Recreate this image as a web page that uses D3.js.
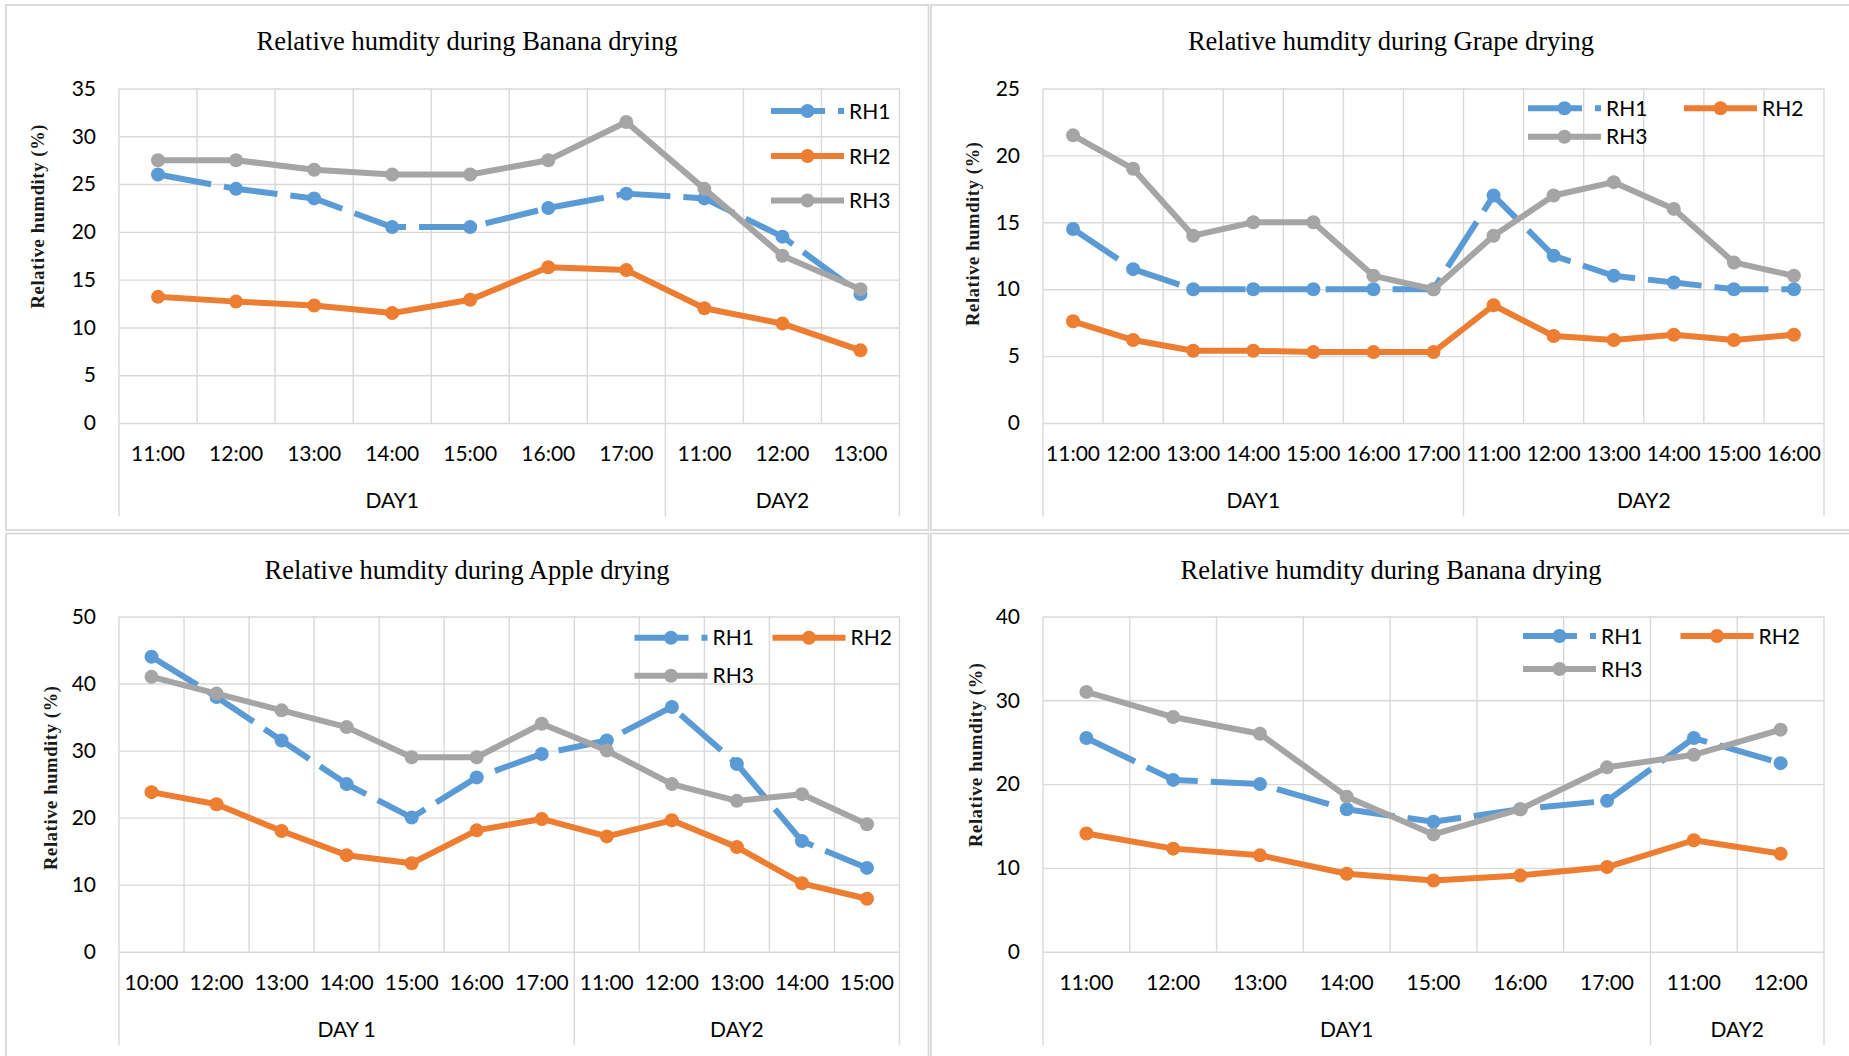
<!DOCTYPE html>
<html>
<head>
<meta charset="utf-8">
<script src="https://cdn.jsdelivr.net/npm/d3@7"></script>
<style>
  html, body { margin: 0; padding: 0; background: #fff; }
  svg { display: block; }
</style>
</head>
<body>
<svg id="chart" width="1849" height="1056"></svg>
<script>
// ---------------- DATA ----------------
const seriesNames = ["RH1", "RH2", "RH3"];

// Panel 1: Banana drying (top-left)
const banana1Title = "Relative humdity during Banana drying";
const banana1Cats = ["11:00","12:00","13:00","14:00","15:00","16:00","17:00","11:00","12:00","13:00"];
const banana1Days = [{label: "DAY1", count: 7}, {label: "DAY2", count: 3}];
const banana1RH1 = [26, 24.5, 23.5, 20.5, 20.5, 22.5, 24, 23.5, 19.5, 13.5];
const banana1RH2 = [13.2, 12.7, 12.3, 11.5, 12.9, 16.3, 16, 12, 10.4, 7.6];
const banana1RH3 = [27.5, 27.5, 26.5, 26, 26, 27.5, 31.5, 24.5, 17.5, 14];
const banana1YTicks = [0, 5, 10, 15, 20, 25, 30, 35];

// Panel 2: Grape drying (top-right)
const grapeTitle = "Relative humdity during Grape drying";
const grapeCats = ["11:00","12:00","13:00","14:00","15:00","16:00","17:00","11:00","12:00","13:00","14:00","15:00","16:00"];
const grapeDays = [{label: "DAY1", count: 7}, {label: "DAY2", count: 6}];
const grapeRH1 = [14.5, 11.5, 10, 10, 10, 10, 10, 17, 12.5, 11, 10.5, 10, 10];
const grapeRH2 = [7.6, 6.2, 5.4, 5.4, 5.3, 5.3, 5.3, 8.8, 6.5, 6.2, 6.6, 6.2, 6.6];
const grapeRH3 = [21.5, 19, 14, 15, 15, 11, 10, 14, 17, 18, 16, 12, 11];
const grapeYTicks = [0, 5, 10, 15, 20, 25];

// Panel 3: Apple drying (bottom-left)
const appleTitle = "Relative humdity during Apple drying";
const appleCats = ["10:00","12:00","13:00","14:00","15:00","16:00","17:00","11:00","12:00","13:00","14:00","15:00"];
const appleDays = [{label: "DAY 1", count: 7}, {label: "DAY2", count: 5}];
const appleRH1 = [44, 38, 31.5, 25, 20, 26, 29.5, 31.5, 36.5, 28, 16.5, 12.5];
const appleRH2 = [23.8, 22, 18, 14.4, 13.2, 18.1, 19.8, 17.2, 19.6, 15.6, 10.2, 7.9];
const appleRH3 = [41, 38.5, 36, 33.5, 29, 29, 34, 30, 25, 22.5, 23.5, 19];
const appleYTicks = [0, 10, 20, 30, 40, 50];

// Panel 4: Banana drying (bottom-right)
const banana2Title = "Relative humdity during Banana drying";
const banana2Cats = ["11:00","12:00","13:00","14:00","15:00","16:00","17:00","11:00","12:00"];
const banana2Days = [{label: "DAY1", count: 7}, {label: "DAY2", count: 2}];
const banana2RH1 = [25.5, 20.5, 20, 17, 15.5, 17, 18, 25.5, 22.5];
const banana2RH2 = [14.1, 12.3, 11.5, 9.3, 8.5, 9.1, 10.1, 13.3, 11.7];
const banana2RH3 = [31, 28, 26, 18.5, 14, 17, 22, 23.5, 26.5];
const banana2YTicks = [0, 10, 20, 30, 40];

const yAxisTitle = "Relative humdity (%)";

// ---------------- STYLE ----------------
const colors = {RH1: "#5B9BD5", RH2: "#ED7D31", RH3: "#A5A5A5"};
const gridColor = "#d9d9d9";
const tickFont = "Lato, 'Open Sans', sans-serif";
const serifFont = "'Liberation Serif', 'Times New Roman', serif";
const lineW = 6;
const markerR = 7;
const dash = "54 13";

const svg = d3.select("#chart");

// panel frames
const frames = [
  {x: 6, y: 5, w: 922.5, h: 525},
  {x: 931, y: 5, w: 960, h: 525},
  {x: 6, y: 533.5, w: 922.5, h: 600},
  {x: 931, y: 533.5, w: 960, h: 600}
];
svg.selectAll("rect.frame").data(frames).enter().append("rect")
  .attr("class", "frame")
  .attr("x", d => d.x).attr("y", d => d.y)
  .attr("width", d => d.w).attr("height", d => d.h)
  .attr("fill", "none").attr("stroke", gridColor).attr("stroke-width", 1.8);

function drawPanel(p) {
  const g = svg.append("g");
  const n = p.cats.length;
  const x = d3.scaleBand().domain(d3.range(n)).range([p.x0, p.x1]).padding(0);
  const y = d3.scaleLinear().domain([0, d3.max(p.yTicks)]).range([p.y1, p.y0]);
  const bw = x.bandwidth();

  // horizontal gridlines (via axis)
  const gy = g.append("g").attr("transform", `translate(${p.x0},0)`)
    .call(d3.axisLeft(y).tickValues(p.yTicks).tickSize(-(p.x1 - p.x0)).tickFormat(""));
  gy.select(".domain").remove();
  gy.selectAll(".tick line").attr("stroke", gridColor).attr("stroke-width", 1.4);

  // vertical gridlines at band edges
  const edges = d3.range(n + 1).map(i => i < n ? x(i) : p.x1);
  g.selectAll("line.vgrid").data(edges).enter().append("line")
    .attr("x1", d => d).attr("x2", d => d)
    .attr("y1", p.y0).attr("y2", p.y1)
    .attr("stroke", gridColor).attr("stroke-width", 1.4);

  // group divider lines below axis
  let acc = 0;
  const divs = [p.x0];
  p.days.forEach(d => { acc += d.count; divs.push(acc < n ? x(acc) : p.x1); });
  g.selectAll("line.div").data(divs).enter().append("line")
    .attr("x1", d => d).attr("x2", d => d)
    .attr("y1", p.y1).attr("y2", p.y1 + 93.5)
    .attr("stroke", gridColor).attr("stroke-width", 1.4);

  // y tick labels
  const yl = g.append("g").attr("transform", `translate(${p.x0},0)`)
    .call(d3.axisLeft(y).tickValues(p.yTicks).tickSize(0).tickPadding(23).tickFormat(d3.format("d")));
  yl.select(".domain").remove();
  yl.selectAll("text").attr("font-family", tickFont).attr("font-size", 21).attr("fill", "#000");

  // x tick labels
  const xl = g.append("g").attr("transform", `translate(0,${p.y1})`)
    .call(d3.axisBottom(x).tickSize(0).tickPadding(0).tickFormat(i => p.cats[i]));
  xl.select(".domain").remove();
  xl.selectAll("text").attr("dy", null).attr("y", 29.8).attr("dominant-baseline", "central")
    .attr("font-family", tickFont).attr("font-size", 21).attr("fill", "#000");

  // day labels
  acc = 0;
  p.days.forEach(d => {
    const a = x(acc);
    const b = (acc + d.count) < n ? x(acc + d.count) : p.x1;
    g.append("text").attr("x", (a + b) / 2).attr("y", p.y1 + 76.5)
      .attr("text-anchor", "middle").attr("dominant-baseline", "central")
      .attr("font-family", tickFont).attr("font-size", 21).attr("fill", "#000")
      .text(d.label);
    acc += d.count;
  });

  // title
  g.append("text").attr("x", p.titleX).attr("y", p.titleY)
    .attr("text-anchor", "middle").attr("font-family", serifFont)
    .attr("font-size", 26.5).attr("fill", "#000").text(p.title);

  // y axis title
  g.append("text")
    .attr("transform", `translate(${p.ytX},${p.ytY}) rotate(-90)`)
    .attr("text-anchor", "middle").attr("dominant-baseline", "central")
    .attr("font-family", serifFont).attr("font-size", 18.5).attr("font-weight", "bold")
    .attr("fill", "#1a1a1a")
    .attr("textLength", 184).attr("lengthAdjust", "spacing")
    .text(yAxisTitle);

  // series
  const line = d3.line().x((d, i) => x(i) + bw / 2).y(d => y(d));
  p.series.forEach((vals, si) => {
    const name = seriesNames[si];
    g.append("path").datum(vals).attr("d", line)
      .attr("fill", "none").attr("stroke", colors[name]).attr("stroke-width", lineW)
      .attr("stroke-linejoin", "round")
      .attr("stroke-dasharray", name === "RH1" ? dash : null);
    g.selectAll(null).data(vals).enter().append("circle")
      .attr("cx", (d, i) => x(i) + bw / 2).attr("cy", d => y(d))
      .attr("r", markerR).attr("fill", colors[name]);
  });

  // legend
  p.legend.forEach((L, li) => {
    const name = seriesNames[li];
    const lg = g.append("g");
    lg.append("line").attr("x1", L.x).attr("x2", L.x + 73).attr("y1", L.y).attr("y2", L.y)
      .attr("stroke", colors[name]).attr("stroke-width", lineW)
      .attr("stroke-dasharray", name === "RH1" ? dash : null);
    lg.append("circle").attr("cx", L.x + 36.5).attr("cy", L.y).attr("r", markerR).attr("fill", colors[name]);
    lg.append("text").attr("x", L.x + 78).attr("y", L.y - 1).attr("dominant-baseline", "central")
      .attr("font-family", tickFont).attr("font-size", 21).attr("fill", "#000").text(name);
  });
}

drawPanel({
  title: banana1Title, cats: banana1Cats, days: banana1Days, yTicks: banana1YTicks,
  series: [banana1RH1, banana1RH2, banana1RH3],
  x0: 119, x1: 899.5, y0: 88.5, y1: 423,
  titleX: 467, titleY: 50, ytX: 38, ytY: 216.5,
  legend: [{x: 771, y: 111}, {x: 771, y: 156}, {x: 771, y: 200.5}]
});
drawPanel({
  title: grapeTitle, cats: grapeCats, days: grapeDays, yTicks: grapeYTicks,
  series: [grapeRH1, grapeRH2, grapeRH3],
  x0: 1043, x1: 1824, y0: 88.5, y1: 423,
  titleX: 1391, titleY: 50, ytX: 973, ytY: 234,
  legend: [{x: 1528, y: 108.3}, {x: 1684, y: 108.3}, {x: 1528, y: 136.7}]
});
drawPanel({
  title: appleTitle, cats: appleCats, days: appleDays, yTicks: appleYTicks,
  series: [appleRH1, appleRH2, appleRH3],
  x0: 119, x1: 899.5, y0: 616.5, y1: 951.7,
  titleX: 467, titleY: 579, ytX: 50.5, ytY: 778,
  legend: [{x: 634.5, y: 637.8}, {x: 772.5, y: 637.8}, {x: 634.5, y: 675.7}]
});
drawPanel({
  title: banana2Title, cats: banana2Cats, days: banana2Days, yTicks: banana2YTicks,
  series: [banana2RH1, banana2RH2, banana2RH3],
  x0: 1043, x1: 1824, y0: 616.5, y1: 951.7,
  titleX: 1391, titleY: 579, ytX: 975.5, ytY: 755,
  legend: [{x: 1523, y: 636}, {x: 1680.5, y: 636}, {x: 1523, y: 669}]
});
</script>
</body>
</html>
